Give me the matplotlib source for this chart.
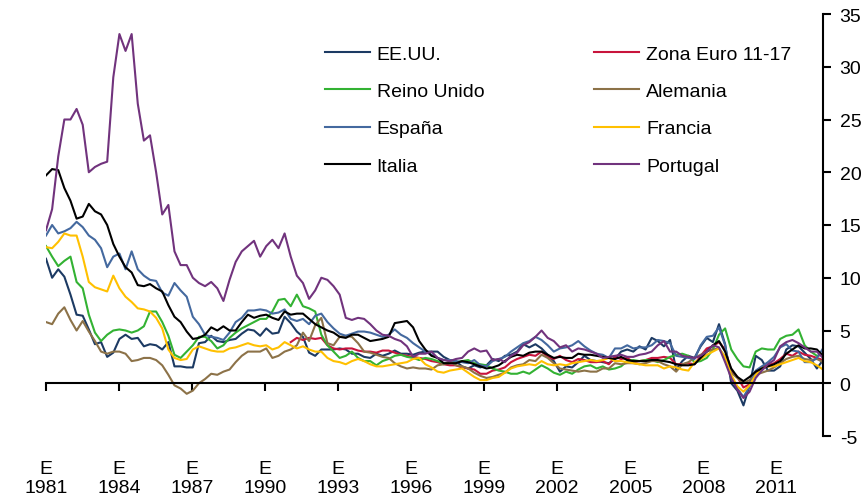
import numpy as np
import matplotlib
matplotlib.use("Agg")
import matplotlib.pyplot as plt

plt.rcParams['font.family'] = ['Liberation Sans', 'DejaVu Sans']

# Quarterly sampling, Jan 1981 .. Dec 2012
dates = np.linspace(1981, 2012 + 11/12, 128)

usa = [11.8, 10.0, 10.8, 10.1,  8.4, 6.5, 6.4, 5.1,  3.7, 3.9, 2.5, 2.9,  4.2, 4.6, 4.2, 4.3,
       3.5, 3.7, 3.6, 3.2,  3.9, 1.6, 1.6, 1.5,  1.5, 3.8, 3.9, 4.5,  4.0, 3.9, 4.1, 4.2,
       4.7, 5.1, 5.0, 4.5,  5.2, 4.7, 4.8, 6.3,  5.7, 4.9, 4.4, 2.9,  2.6, 3.2, 3.2, 3.2,
       3.3, 3.2, 2.8, 2.8,  2.5, 2.4, 2.8, 2.6,  2.8, 3.1, 2.8, 2.8,  2.7, 2.9, 3.0, 3.0,
       3.0, 2.5, 2.2, 2.1,  1.6, 1.4, 1.7, 1.5,  1.7, 2.3, 2.1, 2.6,  2.7, 3.0, 3.7, 3.4,
       3.7, 3.3, 2.7, 2.1,  1.1, 1.6, 1.5, 2.0,  2.6, 2.2, 2.1, 2.0,  1.9, 2.3, 3.0, 3.2,
       3.0, 3.5, 3.2, 4.3,  4.0, 3.5, 4.1, 1.3,  2.1, 2.6, 2.4, 3.5,  4.3, 3.9, 5.6, 3.7,
       0.0, -0.7, -2.1, -0.2,  2.6, 2.2, 1.2, 1.2,  1.6, 3.2, 3.6, 3.5,  2.9, 2.3, 1.4, 2.2]

euro = [3.9, 4.3, 4.1, 4.3,  4.2, 4.3, 3.6, 3.3,  3.2, 3.3, 3.3, 3.1,  3.0, 3.0, 2.9, 3.1,
        3.1, 2.9, 2.7, 2.6,  2.5, 2.4, 2.3, 2.1,  2.0, 1.8, 1.7, 1.7,  1.5, 1.4, 1.3, 0.9,
        0.9, 1.2, 1.3, 1.5,  2.0, 2.3, 2.5, 2.7,  2.6, 3.0, 2.5, 2.3,  2.6, 2.2, 2.0, 2.3,
        2.2, 2.0, 2.0, 2.1,  1.8, 2.5, 2.3, 2.4,  2.0, 2.1, 2.2, 2.4,  2.4, 2.5, 2.4, 1.8,
        1.8, 1.9, 1.8, 2.6,  3.3, 3.5, 3.9, 3.2,  1.2, 0.6, -0.4, -0.1,  1.0, 1.5, 1.7, 1.9,
        2.3, 2.8, 2.6, 3.0,  2.7, 2.6, 2.4, 2.2]

uk = [13.0, 12.0, 11.1, 11.6,  12.0, 9.6, 9.0, 6.5,  4.8, 4.0, 4.6, 5.0,  5.1, 5.0, 4.8, 5.0,
      5.4, 6.8, 6.8, 5.8,  4.5, 2.7, 2.4, 3.0,  3.6, 4.4, 4.4, 4.0,  3.3, 3.6, 4.3, 4.8,
      5.2, 5.5, 5.8, 6.1,  6.1, 6.8, 7.9, 8.0,  7.3, 8.4, 7.3, 7.1,  6.8, 4.6, 3.6, 3.0,
      2.4, 2.6, 3.0, 2.4,  2.1, 2.1, 1.7, 2.1,  2.3, 2.6, 2.7, 2.5,  2.4, 2.2, 2.4, 2.3,
      2.1, 1.9, 1.9, 2.0,  2.1, 2.2, 1.9, 1.8,  1.7, 1.4, 1.2, 1.1,  0.9, 0.9, 1.1, 0.9,
      1.3, 1.7, 1.4, 1.0,  0.8, 1.1, 0.9, 1.3,  1.6, 1.7, 1.4, 1.6,  1.3, 1.4, 1.6, 2.1,
      2.2, 2.1, 2.2, 2.2,  2.0, 2.2, 2.5, 2.7,  2.8, 2.6, 2.0, 2.1,  2.4, 3.2, 4.6, 5.2,
      3.2, 2.3, 1.6, 1.5,  3.0, 3.3, 3.2, 3.2,  4.2, 4.5, 4.6, 5.1,  3.6, 3.0, 2.6, 2.7]

germany = [5.8, 5.6, 6.6, 7.2,  6.0, 5.0, 5.9, 4.9,  4.0, 3.0, 2.8, 3.0,  3.0, 2.8, 2.1, 2.2,
           2.4, 2.4, 2.2, 1.7,  0.8, -0.2, -0.5, -1.0,  -0.7, 0.0, 0.4, 0.9,  0.8, 1.1, 1.3, 2.0,
           2.6, 3.0, 3.0, 3.0,  3.3, 2.4, 2.6, 3.0,  3.2, 3.6, 4.8, 4.0,  5.5, 6.2, 3.8, 3.6,
           4.4, 4.5, 4.4, 3.8,  3.0, 2.9, 2.7, 2.5,  2.4, 1.9, 1.6, 1.4,  1.5, 1.4, 1.4, 1.3,
           1.7, 1.8, 2.1, 1.7,  1.6, 1.4, 1.0, 0.7,  0.5, 0.6, 0.8, 1.0,  1.5, 1.7, 1.8, 2.2,
           2.1, 2.7, 2.4, 1.9,  1.4, 1.3, 1.2, 1.1,  1.2, 1.1, 1.1, 1.4,  1.4, 1.9, 1.8, 1.9,
           1.9, 1.8, 1.9, 2.1,  2.1, 1.8, 1.6, 1.1,  1.8, 2.0, 2.4, 2.7,  3.0, 3.2, 3.3, 2.5,
           1.0, 0.5, 0.0, 0.3,  0.8, 1.0, 1.2, 1.5,  1.9, 2.3, 2.5, 2.6,  2.3, 2.2, 2.3, 2.0]

spain = [14.0, 15.0, 14.2, 14.4,  14.7, 15.3, 14.8, 14.0,  13.6, 12.8, 11.0, 12.0,  12.3, 10.8, 12.5, 10.8,
         10.2, 9.8, 9.7, 8.6,  8.3, 9.5, 8.8, 8.2,  6.3, 5.6, 4.6, 4.4,  4.3, 4.1, 4.8, 5.8,
         6.2, 6.9, 6.9, 7.0,  6.9, 6.6, 6.7, 7.0,  6.1, 5.9, 6.1, 5.6,  6.4, 6.6, 5.8, 5.2,
         4.7, 4.5, 4.7, 4.9,  4.9, 4.8, 4.6, 4.4,  4.6, 5.1, 4.6, 4.3,  3.8, 3.4, 3.0, 2.7,
         2.4, 2.2, 2.2, 2.1,  2.0, 1.9, 2.2, 1.7,  1.6, 2.1, 2.3, 2.5,  3.0, 3.4, 3.8, 4.0,
         4.4, 4.1, 3.6, 3.0,  3.3, 3.4, 3.6, 4.0,  3.5, 3.1, 2.8, 2.7,  2.4, 3.3, 3.3, 3.6,
         3.3, 3.4, 3.4, 3.6,  4.1, 4.0, 3.8, 2.6,  2.5, 2.4, 2.3, 3.6,  4.4, 4.5, 5.3, 3.6,
         0.6, -0.5, -1.3, -0.3,  1.2, 1.6, 2.0, 2.5,  3.4, 3.7, 3.1, 3.0,  2.0, 2.0, 2.4, 3.3]

france = [12.9, 12.8, 13.4, 14.2,  14.0, 14.0, 12.0, 9.6,  9.1, 8.9, 8.7, 10.2,  9.0, 8.2, 7.7, 7.1,
          7.0, 6.8, 6.2, 5.2,  3.2, 2.4, 2.2, 2.3,  3.2, 3.5, 3.3, 3.1,  3.0, 3.0, 3.3, 3.4,
          3.6, 3.8, 3.6, 3.5,  3.6, 3.2, 3.4, 3.9,  3.6, 3.3, 3.5, 3.2,  3.0, 3.0, 2.4, 2.1,
          2.0, 1.8, 2.1, 2.3,  2.1, 1.8, 1.6, 1.6,  1.7, 1.8, 1.9, 2.0,  2.3, 2.4, 1.8, 1.5,
          1.1, 1.0, 1.2, 1.3,  1.4, 1.0, 0.6, 0.3,  0.3, 0.5, 0.6, 1.0,  1.4, 1.6, 1.7, 1.8,
          1.7, 2.1, 1.8, 1.7,  1.8, 1.7, 1.9, 2.0,  2.1, 2.2, 2.1, 2.2,  2.4, 2.1, 2.1, 2.0,
          1.9, 1.8, 1.7, 1.7,  1.7, 1.4, 1.6, 1.5,  1.3, 1.2, 2.0, 2.3,  2.7, 3.0, 3.3, 2.5,
          0.8, -0.3, -0.8, -0.2,  0.8, 1.4, 1.6, 1.6,  1.8, 2.0, 2.2, 2.4,  2.1, 2.0, 1.7, 1.3]

italy = [19.7, 20.3, 20.2, 18.5,  17.3, 15.6, 15.8, 17.0,  16.3, 16.0, 15.0, 13.2,  12.0, 11.0, 10.5, 9.3,
         9.2, 9.4, 9.0, 8.7,  7.4, 6.3, 5.8, 4.9,  4.2, 4.3, 4.6, 5.3,  5.0, 5.4, 5.0, 5.0,
         5.8, 6.5, 6.2, 6.4,  6.5, 6.2, 6.0, 6.8,  6.5, 6.6, 6.6, 6.1,  5.6, 5.3, 5.0, 4.8,
         4.4, 4.3, 4.6, 4.6,  4.3, 4.0, 4.1, 4.2,  4.4, 5.7, 5.8, 5.9,  5.3, 4.0, 3.2, 2.6,
         2.4, 1.9, 1.9, 1.9,  2.1, 2.0, 1.8, 1.6,  1.4, 1.5, 1.7, 2.1,  2.5, 2.7, 2.6, 2.9,
         3.0, 3.0, 2.7, 2.4,  2.5, 2.4, 2.4, 2.8,  2.7, 2.7, 2.6, 2.5,  2.4, 2.3, 2.5, 2.2,
         2.1, 2.1, 2.1, 2.2,  2.2, 2.1, 2.0, 1.8,  1.7, 1.7, 1.8, 2.4,  3.0, 3.6, 4.0, 3.0,
         1.4, 0.6, 0.2, 0.6,  1.1, 1.4, 1.6, 1.8,  2.1, 2.8, 3.2, 3.6,  3.3, 3.3, 3.2, 2.6]

portugal = [14.5, 16.5, 21.5, 25.0,  25.0, 26.0, 24.5, 20.0,  20.5, 20.8, 21.0, 29.0,  33.1, 31.5, 33.1, 26.5,
            23.0, 23.5, 20.0, 16.0,  16.9, 12.5, 11.2, 11.2,  10.0, 9.5, 9.2, 9.6,  9.0, 7.8, 9.8, 11.5,
            12.5, 13.0, 13.5, 12.0,  13.0, 13.6, 12.8, 14.2,  12.0, 10.2, 9.5, 8.0,  8.8, 10.0, 9.8, 9.2,
            8.4, 6.2, 6.0, 6.2,  6.1, 5.6, 5.0, 4.6,  4.5, 4.2, 4.0, 3.5,  2.5, 2.8, 2.8, 3.0,
            2.4, 2.2, 2.1, 2.3,  2.4, 3.0, 3.3, 3.0,  3.1, 2.2, 2.3, 2.0,  2.6, 2.9, 3.6, 3.9,
            4.4, 5.0, 4.3, 4.0,  3.4, 3.6, 3.0, 3.3,  3.2, 3.0, 2.8, 2.4,  2.5, 2.6, 2.7, 2.5,
            2.5, 2.7, 2.8, 3.0,  3.6, 4.0, 3.0, 3.0,  2.6, 2.5, 2.4, 2.6,  3.0, 3.6, 3.4, 2.0,
            0.5, -0.6, -1.4, -0.8,  0.5, 1.2, 1.8, 2.2,  3.5, 3.9, 4.1, 3.8,  3.4, 3.0, 3.0, 2.4]

tick_years = list(range(1981, 2012, 3))

series = [
    ("EE.UU.", dates, usa, "#1C3A63"),
    ("Zona Euro 11-17", dates[40:], euro, "#C8143C"),
    ("Reino Unido", dates, uk, "#33B233"),
    ("Alemania", dates, germany, "#8C7248"),
    ("España", dates, spain, "#44699F"),
    ("Francia", dates, france, "#FFC000"),
    ("Italia", dates, italy, "#000000"),
    ("Portugal", dates, portugal, "#71337D"),
]

FS = 14

fig = plt.figure(figsize=(8.66, 5.02), dpi=100)
ax = fig.add_axes([46/866, 1 - 437/502, (823 - 46)/866, (437 - 15)/502])

handles = {}
for name, x, y, c in series:
    ln, = ax.plot(x, y, color=c, lw=1.5, label=name)
    handles[name] = ln

ax.set_xlim(1981, 2012 + 11/12)
ax.set_ylim(-5, 35)

for s in ("left", "top"):
    ax.spines[s].set_visible(False)
ax.spines["right"].set_linewidth(1.5)
ax.spines["bottom"].set_position(("data", 0))
ax.spines["bottom"].set_linewidth(1.5)

ax.yaxis.tick_right()
ax.set_yticks(range(-5, 36, 5))
ax.set_yticklabels([str(v) for v in range(-5, 36, 5)])
ax.tick_params(axis="y", direction="out", length=6, width=1.5, labelsize=FS, pad=6)

ax.set_xticks(tick_years)
ax.tick_params(axis="x", direction="out", length=6, width=1.5, labelbottom=False)

sec = ax.secondary_xaxis("bottom")
sec.set_xticks(tick_years)
sec.set_xticklabels([f"E\n{y}" for y in tick_years], linespacing=1.15)
sec.spines["bottom"].set_visible(False)
sec.tick_params(length=0, pad=17, labelsize=FS)

order = ["EE.UU.", "Reino Unido", "España", "Italia",
         "Zona Euro 11-17", "Alemania", "Francia", "Portugal"]
ax.legend([handles[n] for n in order], order, ncol=2, frameon=False,
          loc="upper left", bbox_to_anchor=(325/866, 1 - 46/502),
          bbox_transform=fig.transFigure, fontsize=FS, handlelength=2.3,
          handletextpad=0.36, columnspacing=5.66, labelspacing=1.02,
          borderaxespad=0, borderpad=0)

fig.savefig("out.png", dpi=100)
